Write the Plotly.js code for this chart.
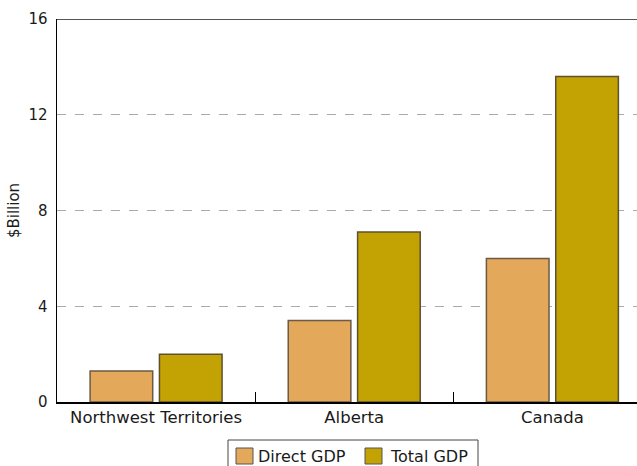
<!DOCTYPE html>
<html>
<head>
<meta charset="utf-8">
<script src="https://cdn.plot.ly/plotly-3.0.1.min.js"></script>
<style>html,body{margin:0;padding:0;background:#fff;}#chart{width:637px;height:466px;}</style>
</head>
<body>
<div id="chart"></div>
<script>
const categories = ["Northwest Territories", "Alberta", "Canada"];
const directGDP = [1.3, 3.4, 6.0];
const totalGDP = [2.0, 7.1, 13.6];
const seriesNames = ["Direct GDP", "Total GDP"];
const yTicks = [0, 4, 8, 12, 16];

const FONT = "DejaVu Sans, sans-serif";
const colors = ["#E3A85A", "#C3A204"];
const outlines = ["#6b5a45", "#5e5030"];
const data = [
  {type: "bar", name: seriesNames[0], x: categories, y: directGDP, showlegend: false,
   marker: {color: colors[0], line: {color: outlines[0], width: 1.5}}},
  {type: "bar", name: seriesNames[1], x: categories, y: totalGDP, showlegend: false,
   marker: {color: colors[1], line: {color: outlines[1], width: 1.5}}}
];

// manual legend (paper coordinates)
const W = 580, H = 383, L = 57, B = 402;
const px = v => (v - L) / W;
const py = v => (B - v) / H;
const legendShapes = [
  {type: "rect", xref: "paper", yref: "paper", x0: px(228), x1: px(478), y0: py(440), y1: py(472),
   line: {color: "#444", width: 1}, fillcolor: "rgba(0,0,0,0)"}
];
const legendAnn = [];
const swX = [236, 365], txX = [257, 389];
seriesNames.forEach((n, i) => {
  legendShapes.push({type: "rect", xref: "paper", yref: "paper", x0: px(swX[i]), x1: px(swX[i] + 17),
    y0: py(448), y1: py(464), line: {color: "#555", width: 1}, fillcolor: colors[i]});
  legendAnn.push({xref: "paper", yref: "paper", x: px(txX[i]), y: py(456.5), xanchor: "left", yanchor: "middle",
    text: n, showarrow: false, borderpad: 0, font: {size: 16, family: FONT, color: "#1a1a1a"}});
});

const layout = {
  width: 637, height: 466,
  margin: {l: 57, r: 0, t: 19, b: 64, autoexpand: false},
  paper_bgcolor: "#fff", plot_bgcolor: "#fff",
  font: {family: FONT, size: 16, color: "#1a1a1a"},
  barmode: "group", bargap: 0.30, bargroupgap: 0.097,
  showlegend: false,
  xaxis: {range: [-0.5, 2.427], showline: true, linecolor: "#000", linewidth: 1.5,
          ticks: "inside", tickson: "boundaries", ticklen: 10, tickcolor: "#000",
          showgrid: false, tickfont: {size: 16.5, family: FONT}, zeroline: false},
  yaxis: {range: [0, 16], tickvals: yTicks, showline: true, linecolor: "#000", linewidth: 1.5,
          showgrid: true, gridcolor: "#aaa", griddash: "dash", gridwidth: 1,
          ticks: "", ticklabelstandoff: 5, zeroline: false, tickfont: {size: 15, family: FONT},
          title: {text: "$Billion", font: {size: 15, family: FONT}, standoff: 5}},
  shapes: [{type: "line", xref: "paper", yref: "y", x0: 0, x1: 1, y0: 16, y1: 16,
            line: {color: "#555", width: 2}}].concat(legendShapes),
  annotations: legendAnn
};
Plotly.newPlot("chart", data, layout, {displayModeBar: false, staticPlot: true});
</script>
</body>
</html>
